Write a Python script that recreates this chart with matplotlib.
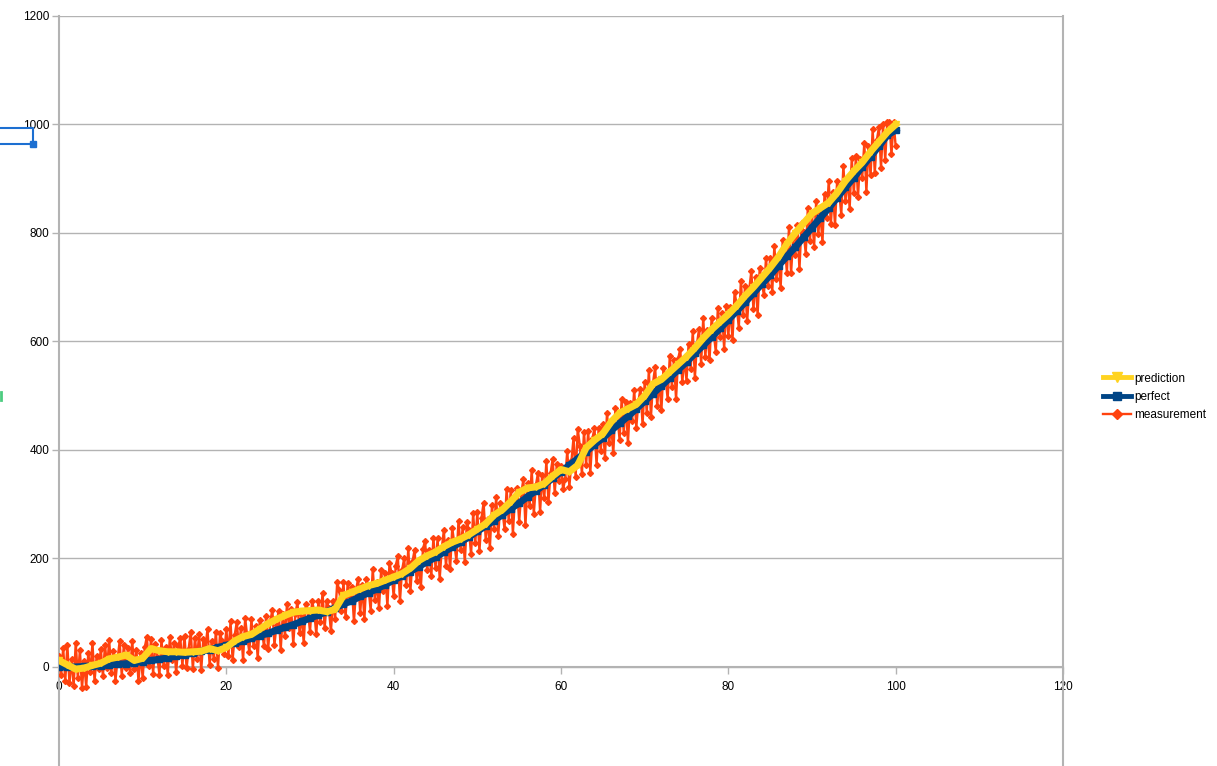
import numpy as np
import matplotlib
matplotlib.use("Agg")
import matplotlib.pyplot as plt
from matplotlib.lines import Line2D

plt.rcParams['font.family'] = ['Liberation Sans', 'DejaVu Sans']

# perfect curve, read at every whole x (0..100)
perfect = [0, 0, 0, 1, 2, 2, 4, 5, 6, 8, 10, 12, 14, 17, 20, 22, 26, 29, 32, 36,
           40, 44, 48, 53, 58, 62, 68, 73, 78, 84, 90, 96, 102, 109, 116, 122, 130, 137, 144, 152,
           160, 168, 176, 185, 194, 202, 212, 221, 230, 240, 250, 260, 270, 281, 292, 302, 314, 325, 336, 348,
           360, 372, 384, 397, 410, 422, 436, 449, 462, 476, 490, 504, 518, 533, 548, 562, 578, 593, 608, 624,
           640, 656, 672, 689, 706, 722, 740, 757, 774, 792, 810, 828, 846, 865, 884, 902, 922, 941, 960, 980,
           990]

# filter prediction, read at every whole x (0..100)
prediction = [12, 4, -4, -2, 3, 7, 15, 18, 22, 12, 16, 34, 30, 28, 28, 27, 28, 29, 34, 30,
              36, 48, 56, 60, 70, 80, 88, 95, 101, 103, 104, 105, 102, 106, 132, 138, 144, 150, 154, 160,
              166, 172, 182, 196, 205, 212, 222, 230, 236, 244, 254, 264, 280, 290, 305, 322, 330, 332, 338, 352,
              364, 360, 372, 404, 418, 430, 452, 468, 476, 484, 500, 522, 530, 544, 558, 572, 588, 606, 622, 636,
              650, 666, 684, 700, 718, 736, 756, 780, 800, 818, 836, 846, 856, 874, 896, 914, 930, 950, 968, 986,
              1000]

# noisy measurement, read every quarter step in x (0..100)
measurement = [
    20, -15, 35, -25, 40, -30, 15, -35, 45, -20, 31, -39, 11, -37, 26, -9, 44, -26, 20, -3,
    33, -17, 41, -2, 49, -11, 29, -25, 15, 47, -16, 41, -2, 35, -11, 48, -4, 31, -26, 25,
    -20, 36, 56, 2, 52, -12, 43, 19, -14, 50, 1, 36, -15, 56, 13, 44, -10, 38, 53, 2,
    58, -2, 34, 65, -4, 54, 15, 61, -6, 52, 36, 70, 4, 48, 14, 65, -2, 62, 48, 24,
    70, 21, 84, 13, 59, 83, 36, 72, 13, 90, 56, 27, 88, 39, 75, 16, 86, 69, 38, 94,
    33, 84, 105, 41, 78, 104, 32, 97, 58, 116, 71, 107, 43, 98, 119, 63, 96, 44, 117, 104,
    65, 122, 103, 60, 121, 83, 137, 71, 122, 109, 66, 122, 89, 156, 142, 104, 156, 92, 154, 131,
    148, 84, 141, 163, 100, 151, 88, 163, 145, 104, 181, 123, 156, 108, 178, 140, 174, 112, 191, 173,
    130, 187, 204, 121, 178, 200, 152, 219, 141, 194, 216, 158, 190, 147, 217, 233, 179, 216, 168, 238,
    183, 237, 162, 219, 252, 186, 234, 181, 256, 228, 196, 270, 215, 258, 193, 268, 252, 208, 283, 228,
    285, 213, 275, 303, 235, 273, 220, 298, 255, 313, 241, 303, 289, 254, 328, 269, 327, 246, 312, 330,
    268, 320, 346, 261, 339, 296, 364, 282, 335, 358, 286, 354, 311, 379, 304, 357, 383, 321, 374, 342,
    370, 328, 346, 399, 332, 380, 423, 351, 439, 408, 356, 434, 372, 435, 358, 421, 440, 373, 441, 399,
    448, 386, 469, 412, 446, 394, 477, 461, 419, 494, 431, 489, 412, 486, 454, 511, 441, 490, 513, 447,
    525, 469, 547, 461, 524, 553, 481, 530, 473, 552, 531, 494, 573, 517, 565, 494, 568, 586, 525, 569,
    528, 596, 550, 619, 533, 596, 623, 559, 643, 572, 621, 565, 643, 617, 581, 662, 609, 653, 587, 666,
    610, 664, 603, 692, 666, 625, 712, 648, 702, 637, 696, 730, 659, 718, 649, 736, 711, 685, 754, 703,
    753, 692, 776, 715, 755, 699, 788, 778, 727, 811, 726, 790, 759, 814, 733, 818, 802, 762, 846, 786,
    835, 775, 859, 799, 838, 783, 872, 827, 896, 816, 876, 815, 895, 875, 834, 924, 859, 903, 845, 938,
    873, 942, 867, 937, 902, 966, 876, 961, 906, 991, 911, 971, 995, 920, 1000, 935, 1005, 1005, 945, 1005,
    960]

x_coarse = np.linspace(0, 100, len(perfect))
x_fine = np.linspace(0, 100, len(measurement))

red = '#ff420e'
blue = '#004586'
yellow = '#ffd320'
grid_col = '#b3b3b3'

fig = plt.figure(figsize=(12.17, 7.66), dpi=100)
ax = fig.add_axes([59 / 1217, 0, 1004 / 1217, 750 / 766])

ax.plot(x_fine, measurement, color=red, lw=1.7, marker='D', ms=3, zorder=3)
ax.plot(x_coarse, perfect, color=blue, lw=5, marker='s', ms=4, zorder=4)
ax.plot(x_coarse, prediction, color=yellow, lw=5, marker='v', ms=5, zorder=5)

ax.set_xlim(0, 120)
ax.set_ylim(-182.5, 1200)
ax.set_xticks(range(0, 121, 20))
ax.set_yticks(range(0, 1201, 200))
ax.yaxis.grid(True, color=grid_col, lw=1)
ax.set_axisbelow(True)

ax.spines['top'].set_visible(False)
ax.spines['bottom'].set_position(('data', 0))
for s in ['left', 'right', 'bottom']:
    ax.spines[s].set_color(grid_col)
    ax.spines[s].set_linewidth(1.5)
ax.tick_params(axis='both', colors=grid_col, labelcolor='black', labelsize=8.5,
               length=5, width=1, direction='out')
ax.tick_params(axis='y', pad=2)
ax.tick_params(axis='x', pad=5)

# legend entries drawn like the chart's own key: line with one marker
handles = [Line2D([], [], color=yellow, lw=3.5, marker='v', ms=7),
           Line2D([], [], color=blue, lw=3.5, marker='s', ms=6),
           Line2D([], [], color=red, lw=1.7, marker='D', ms=5)]
labels = ['prediction', 'perfect', 'measurement']
fig.legend(handles, labels, loc='center left', bbox_to_anchor=(1092 / 1217, 1 - 397 / 766),
           frameon=False, fontsize=8.5, handlelength=2.4, handletextpad=0.3,
           labelspacing=0.55)

# leftover selection marks at the left edge of the sheet
fig.add_artist(Line2D([0, 33 / 1217, 33 / 1217, 0],
                      [1 - 128 / 766, 1 - 128 / 766, 1 - 144 / 766, 1 - 144 / 766],
                      transform=fig.transFigure, color='#1c6fd1', lw=1.5))
fig.add_artist(Line2D([33 / 1217], [1 - 144 / 766], transform=fig.transFigure,
                      marker='s', ms=4, color='#1c6fd1'))
fig.add_artist(Line2D([1 / 1217, 1 / 1217], [1 - 392 / 766, 1 - 400 / 766],
                      transform=fig.transFigure, color='#4ccc80', lw=2))

fig.savefig('out.png', dpi=100)
